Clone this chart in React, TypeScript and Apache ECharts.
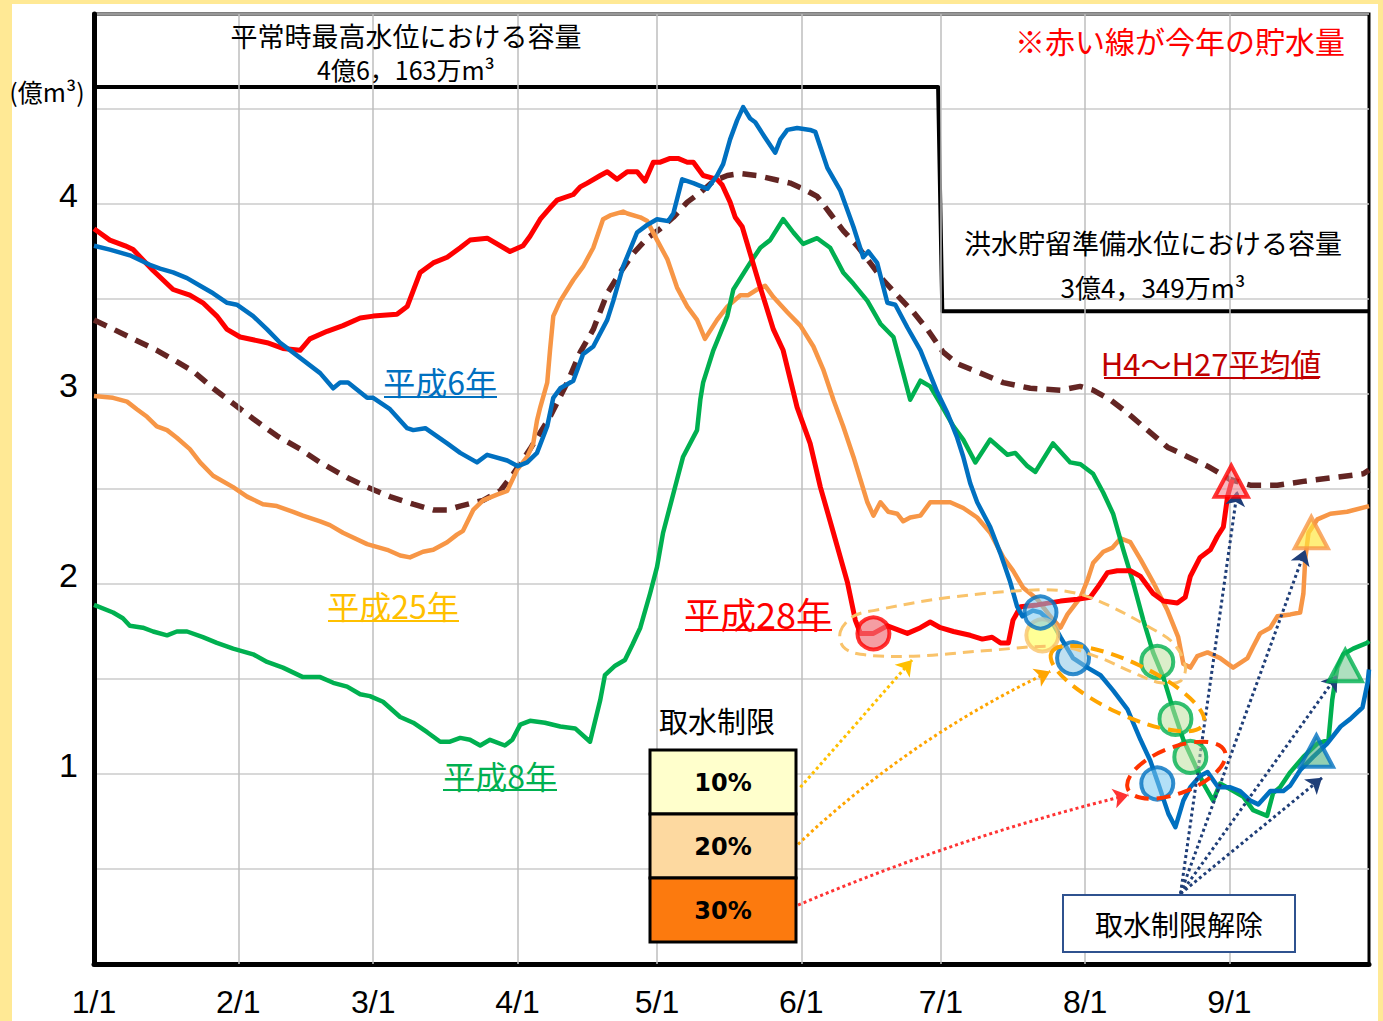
import React, { useEffect, useRef } from "react";
import * as echarts from "echarts";

// x = days since 1/1 (leap year), y = storage (億m³)
const MONTH_DAYS = [0, 31, 60, 91, 121, 152, 182, 213, 244];
const MONTH_LABELS = ["1/1", "2/1", "3/1", "4/1", "5/1", "6/1", "7/1", "8/1", "9/1"];
const Y_LABELS = [1, 2, 3, 4];

const NORMAL_MAX = 4.6163;
const FLOOD_PREP = 3.4349;
const CAPACITY: [number, number][] = [
  [0, NORMAL_MAX], [181.4, NORMAL_MAX], [182.3, FLOOD_PREP], [274, FLOOD_PREP],
];

const H28: [number, number][] = [
  [0, 3.87], [3.4, 3.81], [6.7, 3.78], [8.4, 3.76], [12.7, 3.65], [17, 3.55], [20.6, 3.52], [23.4, 3.48],
  [26.4, 3.41], [28.6, 3.34], [31.4, 3.3], [37.2, 3.27], [40.6, 3.24], [44.3, 3.23], [46.4, 3.29], [50.1, 3.33],
  [53.5, 3.36], [57.2, 3.4], [60, 3.41], [65.1, 3.42], [67.3, 3.46], [70.1, 3.64], [72.9, 3.69], [75.9, 3.72],
  [78.7, 3.77], [80.8, 3.81], [84.5, 3.82], [89.4, 3.75], [92.2, 3.78], [93.7, 3.83], [95.9, 3.92], [98, 3.98],
  [99.5, 4.02], [103, 4.05], [104.5, 4.09], [106, 4.11], [108.8, 4.15], [110.3, 4.17], [112.4, 4.13], [114.6, 4.17],
  [116.7, 4.17], [118.4, 4.12], [120.2, 4.22], [121.7, 4.22], [123.8, 4.24], [125.5, 4.24], [127.5, 4.22],
  [128.8, 4.22], [130.9, 4.15], [133.9, 4.13], [135, 4.1], [136.7, 4.01], [137.8, 3.93], [139.3, 3.88], [141, 3.74],
  [143.2, 3.56], [146, 3.34], [148.1, 3.23], [151.1, 2.93], [153.9, 2.74], [156.1, 2.51], [158.9, 2.27],
  [161.9, 2.01], [163.6, 1.81], [164.7, 1.74], [167.5, 1.74], [170.5, 1.78], [174.8, 1.74], [177.6, 1.77],
  [179.7, 1.8], [181.9, 1.77], [184.7, 1.75], [188.3, 1.73], [190.9, 1.71], [193, 1.72], [194.8, 1.69],
  [196.5, 1.69], [197.5, 1.81], [199.1, 1.88], [202.7, 1.89], [207.7, 1.91], [211.3, 1.92], [214.1, 1.93],
  [215.6, 1.98], [217.8, 2.06], [219.9, 2.07], [222.7, 2.07], [224.9, 2.04], [227.6, 1.95], [229.8, 1.91],
  [232.8, 1.9], [234.5, 1.93], [235.6, 2.04], [237.7, 2.14], [239.9, 2.18], [241.4, 2.25], [242.7, 2.3],
  [243.1, 2.37], [243.6, 2.46], [244.6, 2.55],
];

const H6: [number, number][] = [
  [0, 3.78], [3.4, 3.76], [7.7, 3.73], [12, 3.68], [14.2, 3.66], [17, 3.64], [20, 3.61], [22.8, 3.57], [25.6, 3.53],
  [28.6, 3.48], [30.7, 3.47], [34.2, 3.41], [37.2, 3.34], [40, 3.27], [44.3, 3.19], [48.6, 3.11], [51.4, 3.03],
  [52.9, 3.06], [54.6, 3.06], [58.7, 2.98], [60, 2.98], [63.6, 2.92], [67.3, 2.82], [68.6, 2.81], [71.2, 2.82],
  [75.9, 2.74], [78.7, 2.69], [82.3, 2.64], [84.5, 2.68], [88.8, 2.65], [91.1, 2.62], [93.1, 2.64], [95.2, 2.69],
  [97.4, 2.83], [98.7, 2.98], [100.2, 3.03], [103, 3.07], [105.1, 3.21], [107.3, 3.25], [110.3, 3.39],
  [111.6, 3.49], [113.7, 3.67], [116.7, 3.85], [118.9, 3.89], [121, 3.92], [123.4, 3.91], [124.5, 3.95],
  [126.4, 4.13], [128.8, 4.11], [131.8, 4.08], [133.9, 4.15], [135.2, 4.21], [136.7, 4.34], [138.2, 4.44],
  [139.5, 4.51], [141, 4.45], [142.1, 4.43], [144.2, 4.35], [146.4, 4.27], [147.5, 4.34], [149, 4.39],
  [151.1, 4.4], [153.9, 4.39], [155, 4.38], [157.6, 4.19], [160.4, 4.07], [163.2, 3.88], [165.3, 3.72],
  [166.4, 3.75], [168.3, 3.69], [170.5, 3.48], [172.2, 3.47], [174.8, 3.35], [177.6, 3.23], [181.2, 3.01],
  [183.4, 2.9], [185.5, 2.77], [186.8, 2.67], [188.3, 2.53], [189.8, 2.43], [192.6, 2.3], [194.8, 2.16],
  [196.9, 2.01], [198.4, 1.88], [199.5, 1.83], [201.8, 1.86], [203.4, 1.85], [206.1, 1.79], [207.7, 1.72],
  [210.4, 1.61], [213.5, 1.56], [216.3, 1.52], [219, 1.44], [222.1, 1.34], [224.9, 1.18], [227, 1.07],
  [228.7, 0.95], [230.9, 0.79], [232.4, 0.72], [234.1, 0.86], [235.6, 0.93], [237.7, 0.99], [239.3, 1.01],
  [241.6, 0.93], [244.2, 0.93], [246.3, 0.91], [248.5, 0.86], [250.2, 0.84], [252.8, 0.91], [255.6, 0.91],
  [257.1, 0.94], [259.2, 1.02], [262, 1.09], [265, 1.16], [267.9, 1.25], [270, 1.29], [272.6, 1.35],
  [273.7, 1.48], [274, 1.55],
];

const H25: [number, number][] = [
  [0, 2.99], [4.1, 2.98], [7.1, 2.96], [9.2, 2.92], [11.4, 2.88], [13.5, 2.83], [15.7, 2.81], [17.8, 2.77],
  [20.6, 2.71], [22.8, 2.64], [25.6, 2.57], [29.9, 2.51], [32.9, 2.46], [36.3, 2.42], [39.3, 2.41], [42.8, 2.38],
  [44.9, 2.36], [48.6, 2.33], [50.7, 2.31], [53.5, 2.27], [58.7, 2.21], [63, 2.18], [65.8, 2.15], [67.9, 2.14],
  [70.7, 2.17], [72.9, 2.18], [75.9, 2.22], [78, 2.26], [79.3, 2.28], [81.5, 2.39], [83.6, 2.44], [86.6, 2.47],
  [88.8, 2.49], [90.9, 2.6], [93.1, 2.67], [94.4, 2.74], [95.2, 2.86], [95.9, 2.93], [97.4, 3.06], [98, 3.23],
  [98.7, 3.41], [100.2, 3.49], [103, 3.6], [105.1, 3.67], [107.3, 3.77], [109.4, 3.92], [110.9, 3.94],
  [113.7, 3.96], [114.6, 3.95], [117.4, 3.93], [118.9, 3.91], [121, 3.81], [123.2, 3.71], [125.3, 3.56],
  [127.5, 3.46], [129.6, 3.39], [131.3, 3.29], [133.9, 3.39], [136.1, 3.46], [138.9, 3.52], [140.6, 3.52],
  [142.5, 3.55], [144.2, 3.57], [146, 3.51], [149, 3.43], [151.8, 3.36], [154.6, 3.25], [156.7, 3.13],
  [158.9, 2.97], [161, 2.83], [163.2, 2.67], [164.7, 2.55], [166.2, 2.43], [167.5, 2.36], [169, 2.43],
  [170.7, 2.38], [172.6, 2.37], [173.9, 2.33], [175.4, 2.35], [177.6, 2.36], [179.7, 2.43], [184, 2.43],
  [186.8, 2.4], [189.8, 2.35], [192.6, 2.27], [195.4, 2.14], [197.5, 2.07], [199.7, 1.98], [202.7, 1.92],
  [205.5, 1.83], [207.7, 1.77], [209.2, 1.84], [212, 1.93], [213.5, 2.02], [214.7, 2.11], [216.9, 2.17],
  [218.8, 2.19], [220.6, 2.24], [222.7, 2.22], [224.9, 2.13], [227.6, 2.01], [230.7, 1.86], [233, 1.72],
  [234.1, 1.58], [235.6, 1.56], [237.1, 1.62], [239.3, 1.64], [242, 1.61], [244.8, 1.56], [247.9, 1.61],
  [249.1, 1.67], [250.6, 1.74], [252.8, 1.77], [254.3, 1.83], [257.1, 1.84], [259.2, 1.85], [259.9, 1.95],
  [260.3, 2.13], [261, 2.27], [262.9, 2.34], [265.7, 2.37], [269.3, 2.38], [274, 2.41],
];

const H8: [number, number][] = [
  [0, 1.89], [4.1, 1.85], [6.2, 1.82], [7.7, 1.78], [10.5, 1.77], [12.7, 1.75], [15.7, 1.73], [17.8, 1.75],
  [20, 1.75], [23.4, 1.72], [26.4, 1.69], [29.9, 1.66], [34.2, 1.63], [37.2, 1.59], [40.6, 1.56], [44.9, 1.51],
  [48.6, 1.51], [51.4, 1.48], [54.4, 1.46], [57.2, 1.42], [59.3, 1.41], [62.1, 1.38], [65.8, 1.3], [68.6, 1.27],
  [71.6, 1.22], [74.4, 1.17], [76.5, 1.17], [78.7, 1.19], [80.8, 1.18], [83, 1.15], [85.1, 1.18], [88.3, 1.15],
  [89.9, 1.18], [91.6, 1.26], [93.7, 1.28], [96.9, 1.27], [100.2, 1.25], [103.4, 1.24], [106.6, 1.17],
  [108.8, 1.39], [109.8, 1.52], [112, 1.57], [114.1, 1.6], [115.7, 1.68], [117.4, 1.77], [119.5, 1.95],
  [121, 2.09], [122.3, 2.27], [123.8, 2.41], [125.3, 2.55], [126.6, 2.67], [129.6, 2.81], [130.3, 2.97],
  [130.9, 3.06], [133.1, 3.23], [136.1, 3.41], [137.4, 3.55], [141, 3.69], [143.2, 3.77], [145.3, 3.81],
  [148.1, 3.92], [150.3, 3.85], [152.4, 3.79], [155.4, 3.82], [158.2, 3.77], [161, 3.64], [163.2, 3.58],
  [166.2, 3.49], [169, 3.37], [171.8, 3.3], [173.9, 3.11], [175.4, 2.97], [177.6, 3.07], [179.7, 3.04],
  [181.9, 2.95], [184.7, 2.83], [186.8, 2.76], [189.4, 2.64], [192.6, 2.76], [196.3, 2.68], [198, 2.69],
  [200.6, 2.62], [202.3, 2.59], [206.1, 2.74], [209.8, 2.64], [212, 2.63], [214.7, 2.58], [216.9, 2.48],
  [219, 2.37], [221.2, 2.18], [223.3, 2.01], [225.5, 1.81], [227.6, 1.64], [229.8, 1.51], [231.9, 1.34],
  [234.1, 1.18], [236.2, 1.07], [238.4, 0.95], [240.5, 0.86], [242, 0.95], [244.2, 0.92], [247, 0.88],
  [249.1, 0.81], [252.1, 0.78], [253.4, 0.9], [254.9, 0.93], [257.1, 1.01], [259.9, 1.09], [262.9, 1.16],
  [265.3, 1.18], [266.1, 1.39], [267.2, 1.56], [268.5, 1.63], [270.6, 1.66], [273.6, 1.69], [274, 1.7],
];

const AVG: [number, number][] = [
  [0, 3.39], [3.4, 3.35], [8.4, 3.29], [13.5, 3.23], [17.8, 3.17], [21.3, 3.12], [25.6, 3.03], [29.9, 2.95],
  [34.2, 2.87], [39.3, 2.78], [44.3, 2.71], [48.6, 2.64], [54.4, 2.56], [58.7, 2.51], [63.6, 2.46], [68.6, 2.42],
  [72.9, 2.39], [75.9, 2.39], [78.7, 2.41], [83.6, 2.44], [87.3, 2.49], [90.1, 2.58], [93.7, 2.71], [98, 2.88],
  [101.7, 3.06], [104.5, 3.22], [107.3, 3.34], [110.3, 3.53], [113.1, 3.64], [115.9, 3.74], [118.9, 3.82],
  [121.7, 3.87], [124.5, 3.93], [127.5, 4.01], [130.3, 4.06], [133.1, 4.12], [136.1, 4.15], [138.9, 4.16],
  [142.5, 4.15], [146, 4.13], [149.6, 4.11], [152.4, 4.08], [155.4, 4.04], [158.2, 3.95], [161, 3.86],
  [164, 3.78], [166.8, 3.69], [169.6, 3.6], [172.6, 3.52], [176.1, 3.43], [179.1, 3.34], [182.5, 3.22],
  [185.5, 3.16], [190.5, 3.11], [195.4, 3.06], [201.2, 3.03], [207.7, 3.02], [211.9, 3.04], [214.7, 3.02],
  [218.4, 2.97], [222.1, 2.9], [226.4, 2.81], [230.7, 2.72], [235, 2.67], [239.3, 2.62], [244.2, 2.55],
  [248.5, 2.52], [254.3, 2.52], [259.9, 2.54], [266.3, 2.56], [272.8, 2.58], [274, 2.6],
];

// Restriction markers (data coordinates)
const CIRCLES_10 = { red: [167.5, 1.74], blue: [203.4, 1.85], yellow: [203.8, 1.73], green: [228.5, 1.59] };
const CIRCLES_20 = { blue: [210.4, 1.61], green: [232.4, 1.29] };
const CIRCLES_30 = { blue: [228.5, 0.95], green: [235.6, 1.09] };
const LIFT_TRIANGLES = { h28: [244.4, 2.54], h25: [261.6, 2.27], h8: [268.9, 1.57], h6: [262.7, 1.12] };

const LEGEND_ARROWS = [
  { from: [151.8, 0.93], to: [175.8, 1.6], color: "#FFC000", curve: 0 },
  { from: [151.3, 0.63], to: [205.5, 1.54], color: "#FFA500", curve: 0.08 },
  { from: [151.3, 0.31], to: [222.3, 0.89], color: "#FF3333", curve: 0.04 },
];
const LIFT_ORIGIN = [233.5, 0.37];
const LIFT_TARGETS = [[245.7, 2.49], [260.3, 2.18], [267.2, 1.52], [263.9, 0.98]];

const GROUP10_OUTLINE = [
  [160.4, 1.75], [163.2, 1.83], [167.5, 1.86], [184, 1.93], [204, 1.97], [211.3, 1.95], [217.8, 1.89],
  [227, 1.77], [231.9, 1.69], [234.5, 1.57], [233.5, 1.49], [229.2, 1.48], [222.7, 1.54], [216.3, 1.61],
  [207.7, 1.67], [192, 1.65], [176.1, 1.62], [164.7, 1.63], [161, 1.67],
];
const GROUP20_CENTER = [222.1, 1.45];
const GROUP30_CENTER = [232.6, 1.02];

const JP = "'Noto Sans CJK JP', sans-serif";
const LATIN = "'Liberation Sans', Arial, sans-serif";

export default function App() {
  const ref = useRef<HTMLDivElement>(null);
  useEffect(() => {
    document.body.style.margin = "0";
    const chart = echarts.init(ref.current!, null, { renderer: "svg" });
    const circle = (v: number[], fill: string, stroke: string) => ({
      value: v,
      symbol: "circle",
      symbolSize: 32,
      itemStyle: { color: fill, borderColor: stroke, borderWidth: 4 },
    });
    const tri = (v: number[], fill: string, stroke: string) => ({
      value: v,
      symbol: "triangle",
      symbolSize: [33, 31],
      itemStyle: { color: fill, borderColor: stroke, borderWidth: 4 },
    });
    const lineSeries = (name: string, data: any, color: string, width: number, z: number, type: any = "solid") => ({
      name, type: "line", data, z, showSymbol: false, symbol: "none", silent: true,
      lineStyle: { color, width, type, cap: "butt", join: "round" },
    });
    chart.setOption({
      animation: false,
      grid: { left: 94, right: 14, top: 14, bottom: 57, show: true, borderColor: "#000", borderWidth: 3 },
      xAxis: {
        type: "value", min: 0, max: 274,
        axisLine: { show: true, onZero: false, lineStyle: { color: "#000", width: 5 } },
        axisTick: { show: false },
        splitLine: { show: false },
        axisLabel: {
          customValues: MONTH_DAYS,
          formatter: (v: number) => { const i = MONTH_DAYS.indexOf(v); return i >= 0 ? MONTH_LABELS[i] : ""; },
          fontSize: 32, lineHeight: 32, color: "#000", margin: 22, fontFamily: LATIN,
        },
      },
      yAxis: {
        type: "value", min: 0, max: 5, interval: 0.5,
        axisLine: { show: true, lineStyle: { color: "#000", width: 5 } },
        axisTick: { show: false },
        splitLine: { lineStyle: { color: "#CBCBCB", width: 1.5 } },
        axisLabel: {
          formatter: (v: number) => (Y_LABELS.indexOf(v) >= 0 ? String(v) : ""),
          fontSize: 34, lineHeight: 18, verticalAlign: "bottom", color: "#000", margin: 16,
          fontFamily: LATIN,
        },
      },
      series: [
        {
          ...lineSeries("capacity", CAPACITY, "#000", 4, 3),
          markLine: {
            silent: true, symbol: ["none", "none"], label: { show: false },
            lineStyle: { color: "#BEBEBE", width: 1.5, type: "solid" },
            data: MONTH_DAYS.slice(1).map((d) => ({ xAxis: d })),
          },
        },
        lineSeries("H4～H27平均値", AVG, "#632523", 5.5, 4, [14, 9]),
        lineSeries("平成25年", H25, "#F79646", 4.5, 5),
        lineSeries("平成8年", H8, "#00B050", 4.5, 5),
        lineSeries("平成28年", H28, "#FF0000", 5, 6),
        lineSeries("平成6年", H6, "#0070C0", 4.5, 7),
        {
          type: "lines", coordinateSystem: "cartesian2d", z: 9, silent: true,
          symbol: ["none", "arrow"], symbolSize: 15,
          lineStyle: { width: 3, type: [3, 3], opacity: 1 },
          data: [
            ...LEGEND_ARROWS.map((a) => ({ coords: [a.from, a.to], lineStyle: { color: a.color, curveness: a.curve } })),
            ...LIFT_TARGETS.map((t) => ({ coords: [LIFT_ORIGIN, t], lineStyle: { color: "#1F3E78", curveness: 0 } })),
          ],
        },
        {
          type: "scatter", z: 10, silent: true,
          data: [
            circle(CIRCLES_10.red, "rgba(240,110,120,0.85)", "#FF0000"),
            circle(CIRCLES_10.yellow, "rgba(255,255,100,0.85)", "#F9C36B"),
            circle(CIRCLES_10.blue, "rgba(120,200,240,0.7)", "#0070C0"),
            circle(CIRCLES_10.green, "rgba(190,225,160,0.7)", "#00B050"),
            circle(CIRCLES_20.blue, "rgba(140,200,230,0.7)", "#0070C0"),
            circle(CIRCLES_20.green, "rgba(190,225,160,0.7)", "#00B050"),
            circle(CIRCLES_30.blue, "rgba(120,200,240,0.7)", "#0070C0"),
            circle(CIRCLES_30.green, "rgba(190,225,160,0.7)", "#00B050"),
            tri(LIFT_TRIANGLES.h28, "rgba(240,130,140,0.7)", "#FF0000"),
            tri(LIFT_TRIANGLES.h25, "rgba(255,230,60,0.85)", "#F79646"),
            tri(LIFT_TRIANGLES.h8, "rgba(110,200,140,0.7)", "#00B050"),
            tri(LIFT_TRIANGLES.h6, "rgba(60,170,120,0.7)", "#0070C0"),
          ],
        },
      ],
    });

    const px = (p: number[]) => chart.convertToPixel({ gridIndex: 0 }, p) as number[];
    const txt = (text: string, x: number, y: number, size: number, fill: string, extra: any = {}) => ({
      type: "text", x, y, z: 100, silent: true,
      style: {
        text, fill, fontSize: size, lineHeight: size, fontFamily: JP, textAlign: "center", textVerticalAlign: "middle",
        align: "center", verticalAlign: "middle", ...extra,
      },
    });
    const uline = (x1: number, x2: number, y: number, color: string) => ({
      type: "line", z: 100, silent: true, shape: { x1, y1: y, x2, y2: y }, style: { stroke: color, lineWidth: 2 },
    });
    const g20 = px(GROUP20_CENTER);
    const g30 = px(GROUP30_CENTER);
    chart.setOption({
      graphic: [
        {
          type: "polygon", z: 90, silent: true,
          shape: { points: GROUP10_OUTLINE.map(px), smooth: 0.35 },
          style: { fill: "none", stroke: "#F9C36B", lineWidth: 3, lineDash: [11, 7] },
        },
        {
          type: "ellipse", z: 90, silent: true, x: g20[0], y: g20[1], rotation: -0.44,
          shape: { cx: 0, cy: 0, rx: 84, ry: 26 },
          style: { fill: "none", stroke: "#FFA500", lineWidth: 4, lineDash: [13, 8] },
        },
        {
          type: "ellipse", z: 90, silent: true, x: g30[0], y: g30[1], rotation: 0.37,
          shape: { cx: 0, cy: 0, rx: 52, ry: 23 },
          style: { fill: "none", stroke: "#FF3300", lineWidth: 4, lineDash: [14, 8] },
        },
        txt("平常時最高水位における容量", 406, 35, 27, "#000"),
        txt("4億6，163万m³", 406, 69, 25, "#000"),
        txt("(億m³)", 47, 91, 25, "#000"),
        txt("※赤い線が今年の貯水量", 1180, 40, 30, "#FF0000"),
        txt("洪水貯留準備水位における容量", 1153, 242, 27, "#000"),
        txt("3億4，349万m³", 1153, 286, 26, "#000"),
        txt("H4～H27平均値", 1211, 362, 31, "#C00000"),
        uline(1104, 1319, 378, "#C00000"),
        txt("平成6年", 440, 381, 32, "#0070C0"),
        uline(384, 497, 397, "#0070C0"),
        txt("平成25年", 393, 605, 32, "#FFC000"),
        uline(328, 459, 621, "#FFC000"),
        txt("平成8年", 500, 775, 32, "#00B050"),
        uline(443, 557, 790, "#00B050"),
        txt("平成28年", 758, 613, 36, "#FF0000"),
        uline(685, 832, 630, "#FF0000"),
        txt("取水制限", 717, 720, 29, "#000"),
        { type: "rect", z: 100, silent: true, shape: { x: 650, y: 750, width: 146, height: 64 }, style: { fill: "#FFFFCC", stroke: "#000", lineWidth: 3 } },
        { type: "rect", z: 100, silent: true, shape: { x: 650, y: 814, width: 146, height: 64 }, style: { fill: "#FDD9A0", stroke: "#000", lineWidth: 3 } },
        { type: "rect", z: 100, silent: true, shape: { x: 650, y: 878, width: 146, height: 64 }, style: { fill: "#FC7A0E", stroke: "#000", lineWidth: 3 } },
        txt("10%", 723, 783, 24, "#000", { fontFamily: "'DejaVu Sans', sans-serif", fontWeight: "bold" }),
        txt("20%", 723, 847, 24, "#000", { fontFamily: "'DejaVu Sans', sans-serif", fontWeight: "bold" }),
        txt("30%", 723, 911, 24, "#000", { fontFamily: "'DejaVu Sans', sans-serif", fontWeight: "bold" }),
        { type: "rect", z: 100, silent: true, shape: { x: 1063, y: 895, width: 232, height: 57 }, style: { fill: "#FFFFFF", stroke: "#2F528F", lineWidth: 2 } },
        txt("取水制限解除", 1179, 924, 28, "#000"),
      ],
    });
    return () => chart.dispose();
  }, []);
  return (
    <div style={{ position: "fixed", left: 0, top: 0, width: 1383, height: 1021, background: "#FFE995" }}>
      <div style={{ position: "absolute", left: 12, top: 4, width: 1366, height: 1017, background: "#FFFFFF" }} />
      <div ref={ref} style={{ position: "absolute", left: 0, top: 0, width: 1383, height: 1021 }} />
    </div>
  );
}
